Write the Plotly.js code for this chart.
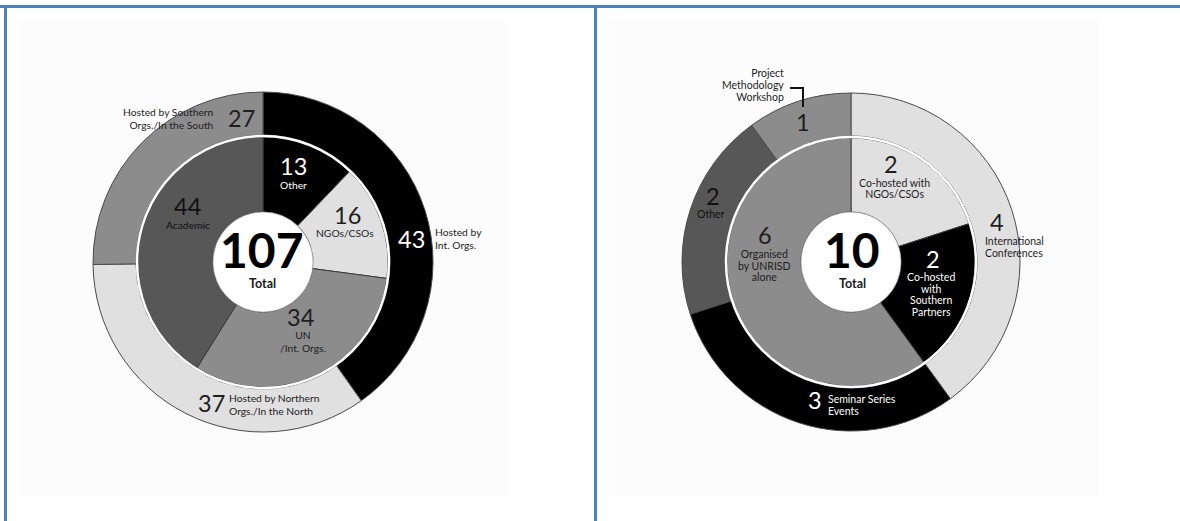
<!DOCTYPE html>
<html>
<head>
<meta charset="utf-8">
<script src="https://cdn.plot.ly/plotly-3.0.1.min.js"></script>
<style>
  html, body { margin: 0; padding: 0; background: #ffffff; }
  #chart { width: 1180px; height: 521px; }
</style>
</head>
<body>
<div id="chart"></div>
<script>
// ---------------- DATA ----------------
const leftOuterLabels = ['Hosted by Int. Orgs.', 'Hosted by Northern Orgs./In the North', 'Hosted by Southern Orgs./In the South'];
const leftOuterValues = [43, 37, 27];
const leftOuterLines  = [['Hosted by', 'Int. Orgs.'], ['Hosted by Northern', 'Orgs./In the North'], ['Hosted by Southern', 'Orgs./In the South']];

const leftInnerLabels = ['Other', 'NGOs/CSOs', 'UN /Int. Orgs.', 'Academic'];
const leftInnerValues = [13, 16, 34, 44];
const leftInnerLines  = [['Other'], ['NGOs/CSOs'], ['UN', '/Int. Orgs.'], ['Academic']];

const rightOuterLabels = ['International Conferences', 'Seminar Series Events', 'Other', 'Project Methodology Workshop'];
const rightOuterValues = [4, 3, 2, 1];
const rightOuterLines  = [['International', 'Conferences'], ['Seminar Series', 'Events'], ['Other'], ['Project', 'Methodology', 'Workshop']];

const rightInnerLabels = ['Co-hosted with NGOs/CSOs', 'Co-hosted with Southern Partners', 'Organised by UNRISD alone'];
const rightInnerValues = [2, 2, 6];
const rightInnerLines  = [['Co-hosted with', 'NGOs/CSOs'], ['Co-hosted', 'with', 'Southern', 'Partners'], ['Organised', 'by UNRISD', 'alone']];

const totalLabel = 'Total';

// ---------------- STYLE / GEOMETRY ----------------
const W = 1180, H = 521;
const BLACK = '#000000', LIGHT = '#e0e0e0', MID = '#8c8c8c', DARK = '#575757';
const FONT = 'Lato, "Open Sans", sans-serif';

const leftOuterColors  = [BLACK, LIGHT, MID];
const leftInnerColors  = [BLACK, LIGHT, MID, DARK];
const rightOuterColors = [LIGHT, BLACK, DARK, MID];
const rightInnerColors = [LIGHT, BLACK, MID];

const charts = [
  { cx: 263, cy: 262, rOuter: 170, rRingIn: 127, rInner: 125, rHole: 50,
    outerValues: leftOuterValues, outerLabels: leftOuterLabels, outerColors: leftOuterColors,
    innerValues: leftInnerValues, innerLabels: leftInnerLabels, innerColors: leftInnerColors },
  { cx: 851, cy: 262, rOuter: 169, rRingIn: 126, rInner: 124, rHole: 50,
    outerValues: rightOuterValues, outerLabels: rightOuterLabels, outerColors: rightOuterColors,
    innerValues: rightInnerValues, innerLabels: rightInnerLabels, innerColors: rightInnerColors }
];

function dom(cx, cy, r) {
  return { x: [(cx - r) / W, (cx + r) / W], y: [1 - (cy + r) / H, 1 - (cy - r) / H] };
}
function circle(cx, cy, r, fill, lineColor, lineWidth, layer) {
  return { type: 'circle', xref: 'paper', yref: 'paper', layer: layer,
    x0: (cx - r) / W, x1: (cx + r) / W, y0: 1 - (cy + r) / H, y1: 1 - (cy - r) / H,
    fillcolor: fill, line: { color: lineColor, width: lineWidth } };
}

const traces = [];
const shapes = [];

// page background panels
shapes.push({ type: 'rect', xref: 'paper', yref: 'paper', layer: 'below',
  x0: 19 / W, x1: 508 / W, y0: 1 - 496 / H, y1: 1 - 20 / H, fillcolor: '#fcfcfc', line: { width: 0 } });
shapes.push({ type: 'rect', xref: 'paper', yref: 'paper', layer: 'below',
  x0: 609 / W, x1: 1099 / W, y0: 1 - 496 / H, y1: 1 - 20 / H, fillcolor: '#fcfcfc', line: { width: 0 } });

charts.forEach(c => {
  traces.push({
    type: 'pie', values: c.outerValues, labels: c.outerLabels, sort: false, direction: 'clockwise', rotation: 0,
    hole: c.rRingIn / c.rOuter, domain: dom(c.cx, c.cy, c.rOuter), textinfo: 'none', hoverinfo: 'label+value',
    marker: { colors: c.outerColors, line: { color: '#4a4a4a', width: 1 } }, showlegend: false
  });
  traces.push({
    type: 'pie', values: c.innerValues, labels: c.innerLabels, sort: false, direction: 'clockwise', rotation: 0,
    hole: c.rHole / c.rInner, domain: dom(c.cx, c.cy, c.rInner), textinfo: 'none', hoverinfo: 'label+value',
    marker: { colors: c.innerColors, line: { color: '#3a3a3a', width: 1 } }, showlegend: false
  });
  shapes.push(circle(c.cx, c.cy, (c.rInner + c.rRingIn) / 2, 'rgba(0,0,0,0)', '#ffffff', 2.5, 'above'));
  shapes.push(circle(c.cx, c.cy, c.rHole, '#ffffff', '#9a9a9a', 0.6, 'above'));
});

// frame lines (blue)
const BLUE = '#4f81bd';
shapes.push({ type: 'line', xref: 'paper', yref: 'paper', layer: 'above', x0: 0, x1: 1, y0: 1 - 6.5 / H, y1: 1 - 6.5 / H, line: { color: BLUE, width: 3 } });
shapes.push({ type: 'line', xref: 'paper', yref: 'paper', layer: 'above', x0: 5.5 / W, x1: 5.5 / W, y0: 0, y1: 1 - 5 / H, line: { color: BLUE, width: 3 } });
shapes.push({ type: 'line', xref: 'paper', yref: 'paper', layer: 'above', x0: 595.5 / W, x1: 595.5 / W, y0: 0, y1: 1 - 5 / H, line: { color: BLUE, width: 3 } });

// leader bracket for "Project Methodology Workshop"
shapes.push({ type: 'path', xref: 'paper', yref: 'paper', layer: 'above',
  path: `M ${790 / W} ${1 - 88 / H} L ${803 / W} ${1 - 88 / H} L ${803 / W} ${1 - 107 / H}`,
  line: { color: '#111111', width: 2 } });

// ---------------- TEXT ----------------
const annotations = [];
const DESC = 0.213; // Lato descent (em)
// text block placed by the baseline of its first line; constant baseline step
function block(x, b0, step, lines, size, color, anchor, bold) {
  const text = lines.map(t => bold ? '<b>' + t + '</b>' : t).join('<br>');
  const yBottom = b0 + step * (lines.length - 1) + DESC * size;
  annotations.push({ xref: 'paper', yref: 'paper', x: x / W, y: 1 - yBottom / H, text: text,
    showarrow: false, xanchor: anchor || 'center', yanchor: 'bottom', align: anchor || 'center',
    borderpad: 0, borderwidth: 0,
    font: { family: FONT, size: size, color: color } });
}
// per-line spacing is 1.3 * base font size in Plotly; use a span to size the glyphs
function lblock(x, b0, step, lines, size, color, anchor, bold) {
  const base = step / 1.3;
  const text = lines.map(t => `<span style="font-size:${size}px">${bold ? '<b>' + t + '</b>' : t}</span>`).join('<br>');
  const yBottom = b0 + step * (lines.length - 1) + DESC * size;
  annotations.push({ xref: 'paper', yref: 'paper', x: x / W, y: 1 - yBottom / H, text: text,
    showarrow: false, xanchor: anchor || 'center', yanchor: 'bottom', align: anchor || 'center',
    borderpad: 0, borderwidth: 0,
    font: { family: FONT, size: base, color: color } });
}
const NUM = 23.5, BIG = 48, LABL = 10.3, LABR = 10.5, TXT = '#1e1e1e', WHT = '#ffffff', DTXT = '#111111';
const sum = a => a.reduce((p, q) => p + q, 0);
const num = (x, b, v, color) => block(x, b, 0, [String(v)], NUM, color);

// left chart
lblock(214, 116, 12.5, leftOuterLines[2], LABL, TXT, 'right');
num(241, 126.5, leftOuterValues[2], TXT);
num(293, 175, leftInnerValues[0], WHT);
lblock(293, 188.5, 12, leftInnerLines[0], LABL, WHT);
num(347, 223.5, leftInnerValues[1], TXT);
lblock(345, 237, 12, leftInnerLines[1], LABL, TXT);
num(411, 247.5, leftOuterValues[0], WHT);
lblock(435, 236, 13, leftOuterLines[0], LABL, TXT, 'left');
num(188, 215, leftInnerValues[3], DTXT);
lblock(188, 228.5, 12, leftInnerLines[3], LABL, DTXT);
block(262, 268, 0, [String(sum(leftOuterValues))], BIG, '#000000', 'center', true);
block(262, 288, 0, [totalLabel], 12.5, '#1a1a1a', 'center', true);
num(301, 325.5, leftInnerValues[2], TXT);
lblock(303, 339, 13, leftInnerLines[2], LABL, TXT);
num(211, 411.5, leftOuterValues[1], TXT);
lblock(229, 402, 13, leftOuterLines[1], LABL, TXT, 'left');

// right chart
lblock(784, 77, 12, rightOuterLines[3], LABR, TXT, 'right');
num(803, 131, rightOuterValues[3], TXT);
num(713, 204.5, rightOuterValues[2], DTXT);
lblock(711, 218, 12, rightOuterLines[2], LABR, DTXT);
num(765, 244, rightInnerValues[2], TXT);
lblock(764, 257.5, 11.5, rightInnerLines[2], LABR, TXT);
block(852, 268, 0, [String(sum(rightInnerValues))], BIG, '#000000', 'center', true);
block(852, 288, 0, [totalLabel], 12.5, '#1a1a1a', 'center', true);
num(891, 173, rightInnerValues[0], TXT);
lblock(894, 186.5, 11.3, rightInnerLines[0], LABR, TXT);
num(997, 231, rightOuterValues[0], TXT);
lblock(985, 244.5, 12, rightOuterLines[0], LABR, TXT, 'left');
num(933, 268, rightInnerValues[1], WHT);
lblock(931, 281.5, 11.5, rightInnerLines[1], LABR, WHT);
num(815, 408.5, rightOuterValues[1], WHT);
lblock(828, 403.5, 11.5, rightOuterLines[1], LABR, WHT, 'left');

const layout = {
  width: W, height: H, margin: { l: 0, r: 0, t: 0, b: 0, pad: 0 },
  paper_bgcolor: '#ffffff', plot_bgcolor: '#ffffff',
  showlegend: false, shapes: shapes, annotations: annotations,
  font: { family: FONT }
};

Plotly.newPlot('chart', traces, layout, { displayModeBar: false, responsive: false });
</script>
</body>
</html>
